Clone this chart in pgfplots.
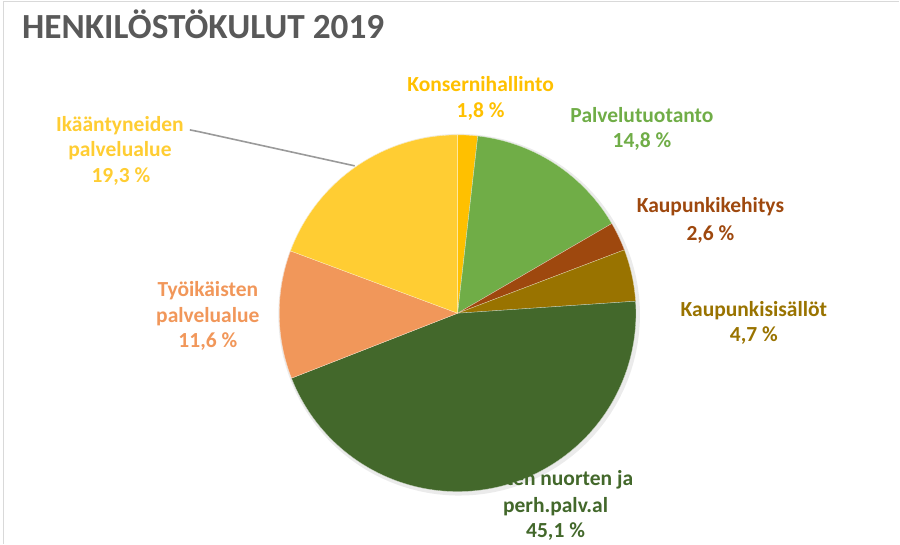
\documentclass[border=0pt]{standalone}
\usepackage{pgfplots}
\pgfplotsset{compat=1.18}
\usepackage{fontspec}
\setmainfont{Carlito}
\definecolor{cKon}{HTML}{FFC000}
\definecolor{cPal}{HTML}{70AD47}
\definecolor{cKeh}{HTML}{9E480E}
\definecolor{cSis}{HTML}{997300}
\definecolor{cLas}{HTML}{43682B}
\definecolor{cTyo}{HTML}{F1975A}
\definecolor{cIka}{HTML}{FFCD33}
\definecolor{cTitle}{HTML}{595959}
\definecolor{cBorder}{HTML}{D9D9D9}
\definecolor{cLead}{HTML}{9A9A9A}
% shares (%) clockwise from 12 o'clock
\def\vKon{1.8}\def\vPal{14.8}\def\vKeh{2.6}\def\vSis{4.7}
\def\vLas{45.1}\def\vTyo{11.6}\def\vIka{19.3}
\def\cx{458}\def\cy{230.5}\def\pr{178.5}
\pgfmathsetmacro\tot{\vKon+\vPal+\vKeh+\vSis+\vLas+\vTyo+\vIka}
\pgfmathsetmacro\aA{90}
\pgfmathsetmacro\aB{\aA-360*\vKon/\tot}
\pgfmathsetmacro\aC{\aB-360*\vPal/\tot}
\pgfmathsetmacro\aD{\aC-360*\vKeh/\tot}
\pgfmathsetmacro\aE{\aD-360*\vSis/\tot}
\pgfmathsetmacro\aF{\aE-360*\vLas/\tot}
\pgfmathsetmacro\aG{\aF-360*\vTyo/\tot}
\pgfmathsetmacro\aH{\aG-360*\vIka/\tot}
\newcommand\slice[3]{\addplot[fill=#1, draw=white!70!#1, line width=0.3pt, domain=#3:#2, samples=90, variable=\t] ({\cx+\pr*cos(\t)},{\cy+\pr*sin(\t)}) -- (axis cs:\cx,\cy) -- cycle;}
\tikzset{lab/.style={font=\bfseries\fontsize{21.5}{26}\selectfont, anchor=base, inner sep=0pt}}
\begin{document}
\begin{tikzpicture}
\begin{axis}[width=900pt, height=544pt, scale only axis, xmin=0, xmax=900, ymin=0, ymax=544, hide axis, clip=false]
\path[draw=none] (axis cs:0,0) rectangle (axis cs:900,544);
\draw[cBorder, line width=1.5pt] (axis cs:3.5,0) -- (axis cs:3.5,542.5) -- (axis cs:900,542.5);
% soft shadow
\addplot[fill=black, fill opacity=0.08, draw=none, domain=0:360, samples=120, variable=\t] ({\cx+1.5+(\pr+2.5)*cos(\t)},{\cy-1.5+(\pr+2.5)*sin(\t)});
\slice{cKon}{\aA}{\aB}
\slice{cPal}{\aB}{\aC}
\slice{cKeh}{\aC}{\aD}
\slice{cSis}{\aD}{\aE}
\slice{cLas}{\aE}{\aF}
\slice{cTyo}{\aF}{\aG}
\slice{cIka}{\aG}{\aH}
% title
\node[anchor=base west, inner sep=0pt, text=cTitle, font=\bfseries\fontsize{35.3}{40}\selectfont] at (axis cs:22,505) {HENKILÖSTÖKULUT 2019};
% leader line
\draw[cLead, line width=1.6pt] (axis cs:190,414) -- (axis cs:200,412) -- (axis cs:355,378);
% labels
\node[lab, text=cKon] at (axis cs:481,452) {Konsernihallinto};
\node[lab, text=cKon] at (axis cs:481,426) {1,8 \%};
\node[lab, text=cPal] at (axis cs:642.5,421) {Palvelutuotanto};
\node[lab, text=cPal] at (axis cs:642.5,396) {14,8 \%};
\node[lab, text=cKeh] at (axis cs:711,331) {Kaupunkikehitys};
\node[lab, text=cKeh] at (axis cs:711,303) {2,6 \%};
\node[lab, text=cSis] at (axis cs:754.5,227) {Kaupunkisisällöt};
\node[lab, text=cSis] at (axis cs:754.5,202) {4,7 \%};
\node[lab, text=cLas] at (axis cs:556,58) {Lasten nuorten ja};
\node[lab, text=cLas] at (axis cs:556,31) {perh.palv.al};
\node[lab, text=cLas] at (axis cs:556,6) {45,1 \%};
\node[lab, text=cTyo] at (axis cs:208,247) {Työikäisten};
\node[lab, text=cTyo] at (axis cs:208,221) {palvelualue};
\node[lab, text=cTyo] at (axis cs:208,196) {11,6 \%};
\node[lab, text=cIka] at (axis cs:120,412) {Ikääntyneiden};
\node[lab, text=cIka] at (axis cs:120,387) {palvelualue};
\node[lab, text=cIka] at (axis cs:121,361) {19,3 \%};
\end{axis}
\end{tikzpicture}
\end{document}
